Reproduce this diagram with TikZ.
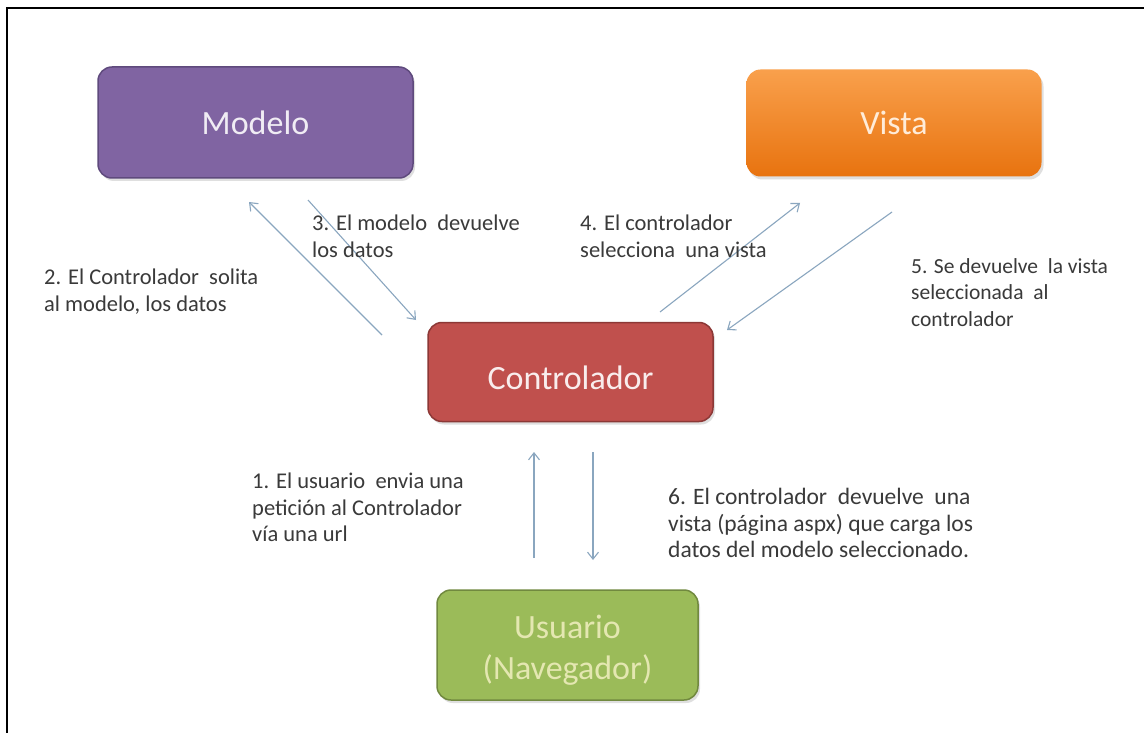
\documentclass[tikz,border=0pt]{standalone}
\usepackage{fontspec}
\setmainfont{Carlito}
\usetikzlibrary{arrows.meta,shadows}
\definecolor{modfill}{HTML}{8064A2}
\definecolor{moddraw}{HTML}{5F4A7D}
\definecolor{vistop}{HTML}{F9A04C}
\definecolor{visbot}{HTML}{E8730F}
\definecolor{confill}{HTML}{C0504D}
\definecolor{condraw}{HTML}{8C3836}
\definecolor{usrfill}{HTML}{9BBB59}
\definecolor{usrdraw}{HTML}{71893F}
\definecolor{arrowc}{HTML}{8AA6BF}
\definecolor{lblc}{HTML}{3A3A3A}
\newcommand{\lowered}[1]{\raisebox{-6pt}[\height][\depth]{#1}}
\tikzset{
  box/.style={rounded corners=14pt, line width=1.5pt, inner sep=0pt, align=center,
    font=\fontsize{34}{41}\selectfont,
    drop shadow={opacity=0.25, shadow xshift=2pt, shadow yshift=-3pt}},
  lbl/.style={anchor=north west, inner sep=0pt, align=left, text=lblc,
    font=\fontsize{22.5}{26.5}\selectfont},
  conn/.style={draw=arrowc, line width=1.1pt, -{Straight Barb[length=7pt,width=11pt]}}
}
\begin{document}
\begin{tikzpicture}[x=1pt,y=-1pt]
\useasboundingbox (0,0) rectangle (1144,733);
\fill[white] (0,0) rectangle (1144,733);
\draw[line width=2pt] (7,733) -- (7,8) -- (1144,8);

\node[box, fill=modfill, draw=moddraw, text=white!88!modfill, minimum width=315pt, minimum height=111pt] (mod) at (255.5,122.5) {Modelo};
\node[box, top color=vistop, bottom color=visbot, draw=none, text=white!85!orange, minimum width=295pt, minimum height=107pt] (vis) at (894,123) {Vista};
\node[box, fill=confill, draw=condraw, text=white!90!confill, minimum width=285pt, minimum height=99pt] (con) at (570.5,372) {\lowered{Controlador}};
\node[box, fill=usrfill, draw=usrdraw, text=white!80!yellow!70!usrfill, minimum width=261pt, minimum height=110pt] (usr) at (567.5,645) {\lowered{\begin{tabular}{@{}c@{}}Usuario\\(Navegador)\end{tabular}}};

\coordinate (a2s) at (382,335); \coordinate (a2e) at (249,202);
\coordinate (a3s) at (308,200); \coordinate (a3e) at (416,320);
\coordinate (a4s) at (660,312); \coordinate (a4e) at (800,203);
\coordinate (a5s) at (892,212); \coordinate (a5e) at (727,330);
\coordinate (a1s) at (534,558); \coordinate (a1e) at (534,452);
\coordinate (a6s) at (593,452); \coordinate (a6e) at (593,560);

\draw[conn] (a2s) -- (a2e);
\draw[conn] (a3s) -- (a3e);
\draw[conn] (a4s) -- (a4e);
\draw[conn] (a5s) -- (a5e);
\draw[conn] (a1s) -- (a1e);
\draw[conn] (a6s) -- (a6e);

\node[lbl] (l2) at (44,269) {2. El Controlador\ \ solita\\al modelo, los datos};
\node[lbl] (l3) at (312,215) {3. El modelo\ \ devuelve\\los datos};
\node[lbl] (l4) at (580,215) {4. El controlador\\selecciona\ \ una vista};
\node[lbl, font=\fontsize{21.5}{26.5}\selectfont] (l5) at (911,258) {5. Se devuelve\ \ la vista\\seleccionada\ \ al\\controlador};
\node[lbl] (l1) at (252,473) {1. El usuario\ \ envia una\\petición al Controlador\\vía una url};
\node[lbl, font=\fontsize{23.5}{26.5}\selectfont] (l6) at (668,488) {6. El controlador\ \ devuelve\ \ una\\vista (página aspx) que carga los\\datos del modelo seleccionado.};
\end{tikzpicture}
\end{document}
